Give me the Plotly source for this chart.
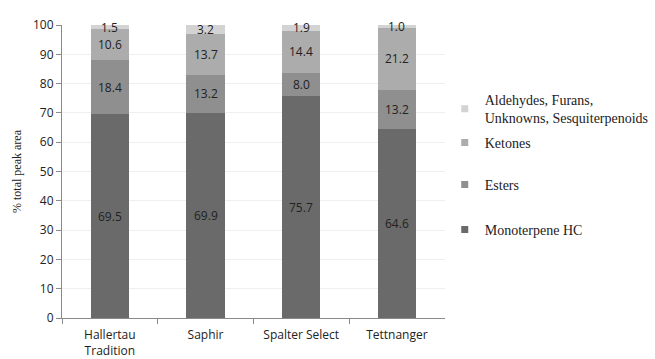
import plotly.graph_objects as go

# Hop varieties and the share of total peak area per compound class
varieties = ["Hallertau<br>Tradition", "Saphir", "Spalter Select", "Tettnanger"]
monoterpene_hc = [69.5, 69.9, 75.7, 64.6]
esters = [18.4, 13.2, 8.0, 13.2]
ketones = [10.6, 13.7, 14.4, 21.2]
others = [1.5, 3.2, 1.9, 1.0]
y_ticks = [0, 10, 20, 30, 40, 50, 60, 70, 80, 90, 100]

series = [
    ("Monoterpene HC", monoterpene_hc, "#6a6a6a"),
    ("Esters", esters, "#8f8f8f"),
    ("Ketones", ketones, "#acacac"),
    ("Aldehydes, Furans,<br>Unknowns, Sesquiterpenoids", others, "#d3d3d3"),
]
# vertical centre of each legend entry (fraction of figure height, from bottom)
legend_y = [1 - 230 / 359, 1 - 185 / 359, 1 - 143 / 359, 1 - 109 / 359]

label_font = dict(family="Open Sans, DejaVu Sans, sans-serif", size=12, color="#222222")
legend_font = dict(family="Liberation Serif, Times New Roman, serif", size=14, color="#222222")

fig = go.Figure()
base = [0.0] * len(varieties)
legend_layouts = {}
for i, (name, vals, color) in enumerate(series):
    fig.add_trace(go.Bar(
        x=varieties,
        y=vals,
        name=name,
        showlegend=False,
        marker=dict(color=color, line=dict(width=0)),
    ))
    # small square key for the legend entry
    legend_id = "legend" if i == 0 else f"legend{i + 1}"
    fig.add_trace(go.Scatter(
        x=[None], y=[None],
        mode="markers",
        name=name,
        legend=legend_id,
        marker=dict(symbol="square", size=7, color=color),
    ))
    legend_layouts[legend_id] = dict(
        xref="container", yref="container",
        x=0.679, y=legend_y[i],
        xanchor="left", yanchor="middle",
        font=legend_font,
        itemwidth=30,
        bgcolor="rgba(0,0,0,0)",
    )
    # value labels centred on each stacked segment
    for j, (cat, v) in enumerate(zip(varieties, vals)):
        fig.add_annotation(
            x=cat, y=base[j] + v / 2, text=f"{v:.1f}",
            showarrow=False, font=label_font,
            xref="x", yref="y",
        )
        base[j] += v

fig.update_layout(
    barmode="stack",
    bargap=0.6,
    width=655,
    height=359,
    margin=dict(l=62, r=202, t=25, b=41),
    paper_bgcolor="white",
    plot_bgcolor="white",
    font=dict(family="Open Sans, DejaVu Sans, sans-serif", size=12, color="#222222"),
    showlegend=True,
    **legend_layouts,
)

fig.update_xaxes(
    showline=True,
    linecolor="#8a8a8a",
    linewidth=1,
    ticks="outside",
    tickson="boundaries",
    ticklen=5,
    tickcolor="#8a8a8a",
    showgrid=False,
    automargin=False,
    ticklabelstandoff=6,
    tickfont=dict(size=12, color="#222222"),
)

fig.update_yaxes(
    range=[0, 100],
    tickvals=y_ticks,
    showline=True,
    linecolor="#8a8a8a",
    linewidth=1,
    ticks="outside",
    ticklen=5,
    tickcolor="#8a8a8a",
    showgrid=True,
    gridcolor="#efefef",
    zeroline=False,
    automargin=False,
    tickfont=dict(size=12, color="#222222"),
    title=dict(
        text="% total peak area",
        font=dict(family="Liberation Serif, Times New Roman, serif", size=12, color="#222222"),
        standoff=8,
    ),
)

fig.write_html("out.html")
